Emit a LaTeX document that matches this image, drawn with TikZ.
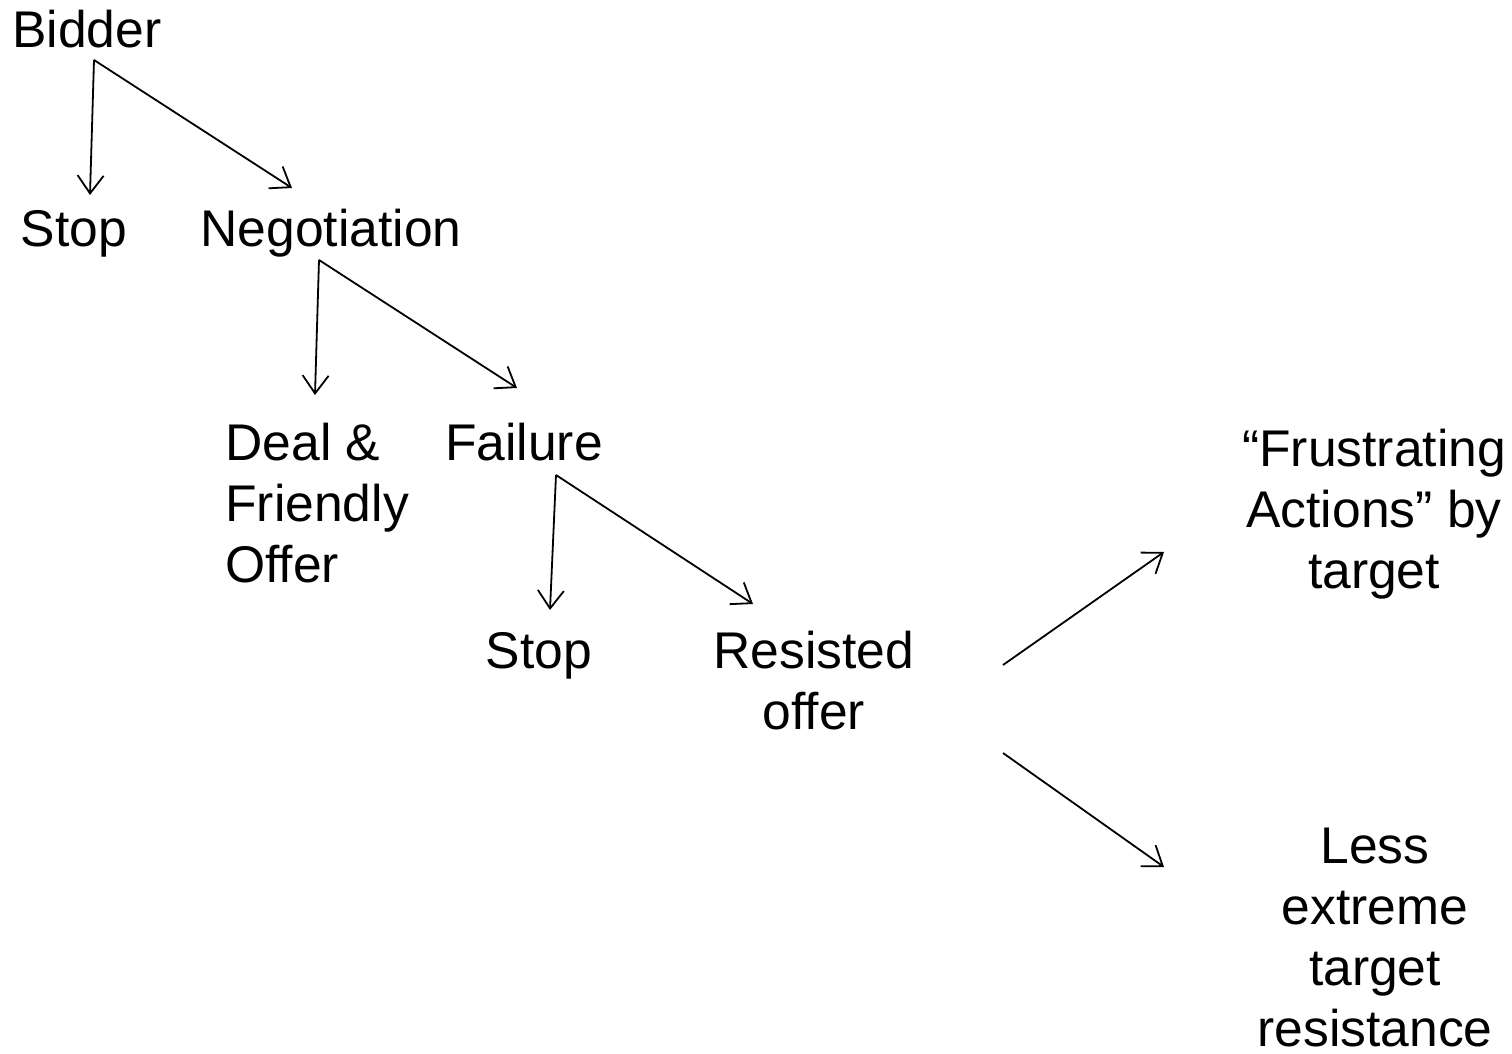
\documentclass[tikz,border=0pt]{standalone}
\usepackage{fontspec}
\setmainfont{Liberation Sans}
\usetikzlibrary{arrows.meta}
\tikzset{
  every picture/.style={font=\fontsize{25.8}{30.5}\selectfont},
  step text/.style={inner sep=0pt,anchor=base,align=center},
  branch/.style={draw=black,line width=0.9pt,
    -{Straight Barb[length=9pt,width=13pt]}},
}
\begin{document}
\begin{tikzpicture}[x=0.5pt,y=-0.5pt]
  % one pixel of the slide is one unit; y runs downwards
  % multi-line labels sit on the baseline of their last line
  \path[use as bounding box] (0,0) rectangle (1512,1054);
  \node[step text] (bidder) at (87,48) {Bidder};
  \node[step text] (stop1) at (74,247) {Stop};
  \node[step text] (negotiation) at (331,247) {Negotiation};
  \node[step text,anchor=base west,align=left] (deal) at (225,582)
    {Deal \&\\Friendly\\Offer};
  \node[step text] (failure) at (524,460) {Failure};
  \node[step text] (stop2) at (539,668) {Stop};
  \node[step text] (resisted) at (814,729) {Resisted\\offer};
  \node[step text] (frustrating) at (1374,588) {“Frustrating\\Actions” by\\target};
  \node[step text] (less) at (1375,1046) {Less\\extreme\\target\\resistance};
  % fork points and arrow ends
  \coordinate (bidder fork) at (94,60);
  \coordinate (stop1 in) at (90,195);
  \coordinate (negotiation in) at (292,188);
  \coordinate (negotiation fork) at (319,260);
  \coordinate (deal in) at (315,395);
  \coordinate (failure in) at (517,388);
  \coordinate (failure fork) at (556,475);
  \coordinate (stop2 in) at (550,610);
  \coordinate (resisted in) at (753,604);
  \coordinate (resisted up) at (1003,665);
  \coordinate (resisted down) at (1003,753);
  \coordinate (frustrating in) at (1164,552);
  \coordinate (less in) at (1164,867);
  \draw[branch] (bidder fork) -- (stop1 in);
  \draw[branch] (bidder fork) -- (negotiation in);
  \draw[branch] (negotiation fork) -- (deal in);
  \draw[branch] (negotiation fork) -- (failure in);
  \draw[branch] (failure fork) -- (stop2 in);
  \draw[branch] (failure fork) -- (resisted in);
  \draw[branch] (resisted up) -- (frustrating in);
  \draw[branch] (resisted down) -- (less in);
\end{tikzpicture}
\end{document}
